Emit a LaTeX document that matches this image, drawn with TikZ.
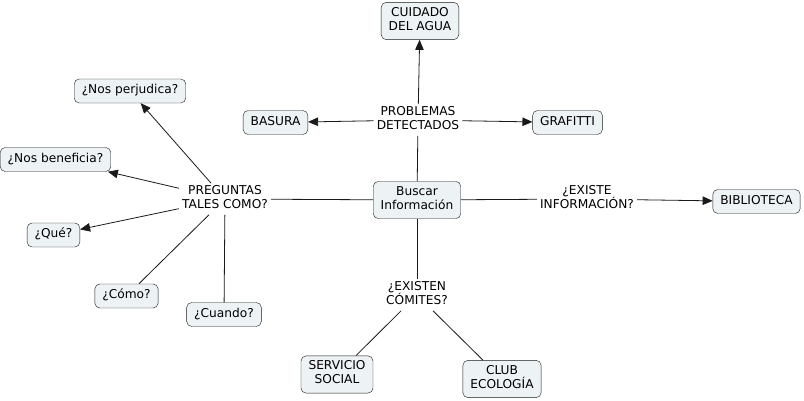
\documentclass[tikz,border=0pt]{standalone}
\usepackage{fontspec}
\setmainfont{DejaVu Sans}
\usetikzlibrary{arrows.meta}
\definecolor{conceptfill}{HTML}{EDF2F5}
\definecolor{linkgray}{HTML}{1A1A1A}

\begin{document}
\begin{tikzpicture}[x=1pt, y=-1pt,
    concept/.style={draw=linkgray, fill=conceptfill, rounded corners=5pt, align=center,
        inner xsep=7.5pt, inner ysep=5pt, font=\fontsize{12.2}{14}\selectfont,
        execute at begin node=\strut, execute at end node=\strut},
    linkword/.style={align=center, inner xsep=3pt, inner ysep=2pt, font=\fontsize{12.2}{14}\selectfont,
        execute at begin node=\strut, execute at end node=\strut},
    link/.style={draw=linkgray, line width=0.8pt},
    linkarrow/.style={link, -{Triangle[length=10pt, width=8.5pt]}}]
    \useasboundingbox (0,0) rectangle (804,401);

    % Central concept
    \node[concept] (buscar) at (417,200) {Buscar\\Información};

    % Problems branch
    \node[linkword] (problemas) at (418,120) {PROBLEMAS\\DETECTADOS};
    \node[concept] (cuidado) at (420,21) {CUIDADO\\DEL AGUA};
    \node[concept] (basura) at (275.5,122.5) {BASURA};
    \node[concept] (grafitti) at (567.5,122.5) {GRAFITTI};

    % Questions branch
    \node[linkword] (preguntas) at (225,199) {PREGUNTAS\\TALES COMO?};
    \node[concept] (perjudica) at (130,91) {¿Nos perjudica?};
    \node[concept] (beneficia) at (55.5,159.5) {¿Nos beneficia?};
    \node[concept] (que) at (53.5,235) {¿Qué?};
    \node[concept] (como) at (126.5,296) {¿Cómo?};
    \node[concept] (cuando) at (224,314.5) {¿Cuando?};

    % Information branch
    \node[linkword] (existe) at (587,199) {¿EXISTE\\INFORMACIÓN?};
    \node[concept] (biblioteca) at (756.5,201.5) {BIBLIOTECA};

    % Committees branch
    \node[linkword] (comites) at (417,295) {¿EXISTEN\\CÓMITES?};
    \node[concept] (servicio) at (337,374.5) {SERVICIO\\SOCIAL};
    \node[concept] (club) at (502,379) {CLUB\\ECOLOGÍA};

    % Connectors
    \draw[link] (buscar) -- (problemas);
    \draw[linkarrow] (problemas) -- (cuidado);
    \draw[linkarrow] (problemas) -- (basura);
    \draw[linkarrow] (problemas) -- (grafitti);

    \draw[link] (buscar) -- (preguntas);
    \draw[linkarrow] (preguntas) -- (perjudica);
    \draw[linkarrow] (preguntas) -- (beneficia);
    \draw[linkarrow] (preguntas) -- (que);
    \draw[link] (preguntas) -- (como);
    \draw[link] (preguntas) -- (cuando);

    \draw[link] (buscar) -- (existe);
    \draw[linkarrow] (existe) -- (biblioteca);

    \draw[link] (buscar) -- (comites);
    \draw[link] (comites) -- (servicio);
    \draw[link] (comites) -- (club);
\end{tikzpicture}
\end{document}
